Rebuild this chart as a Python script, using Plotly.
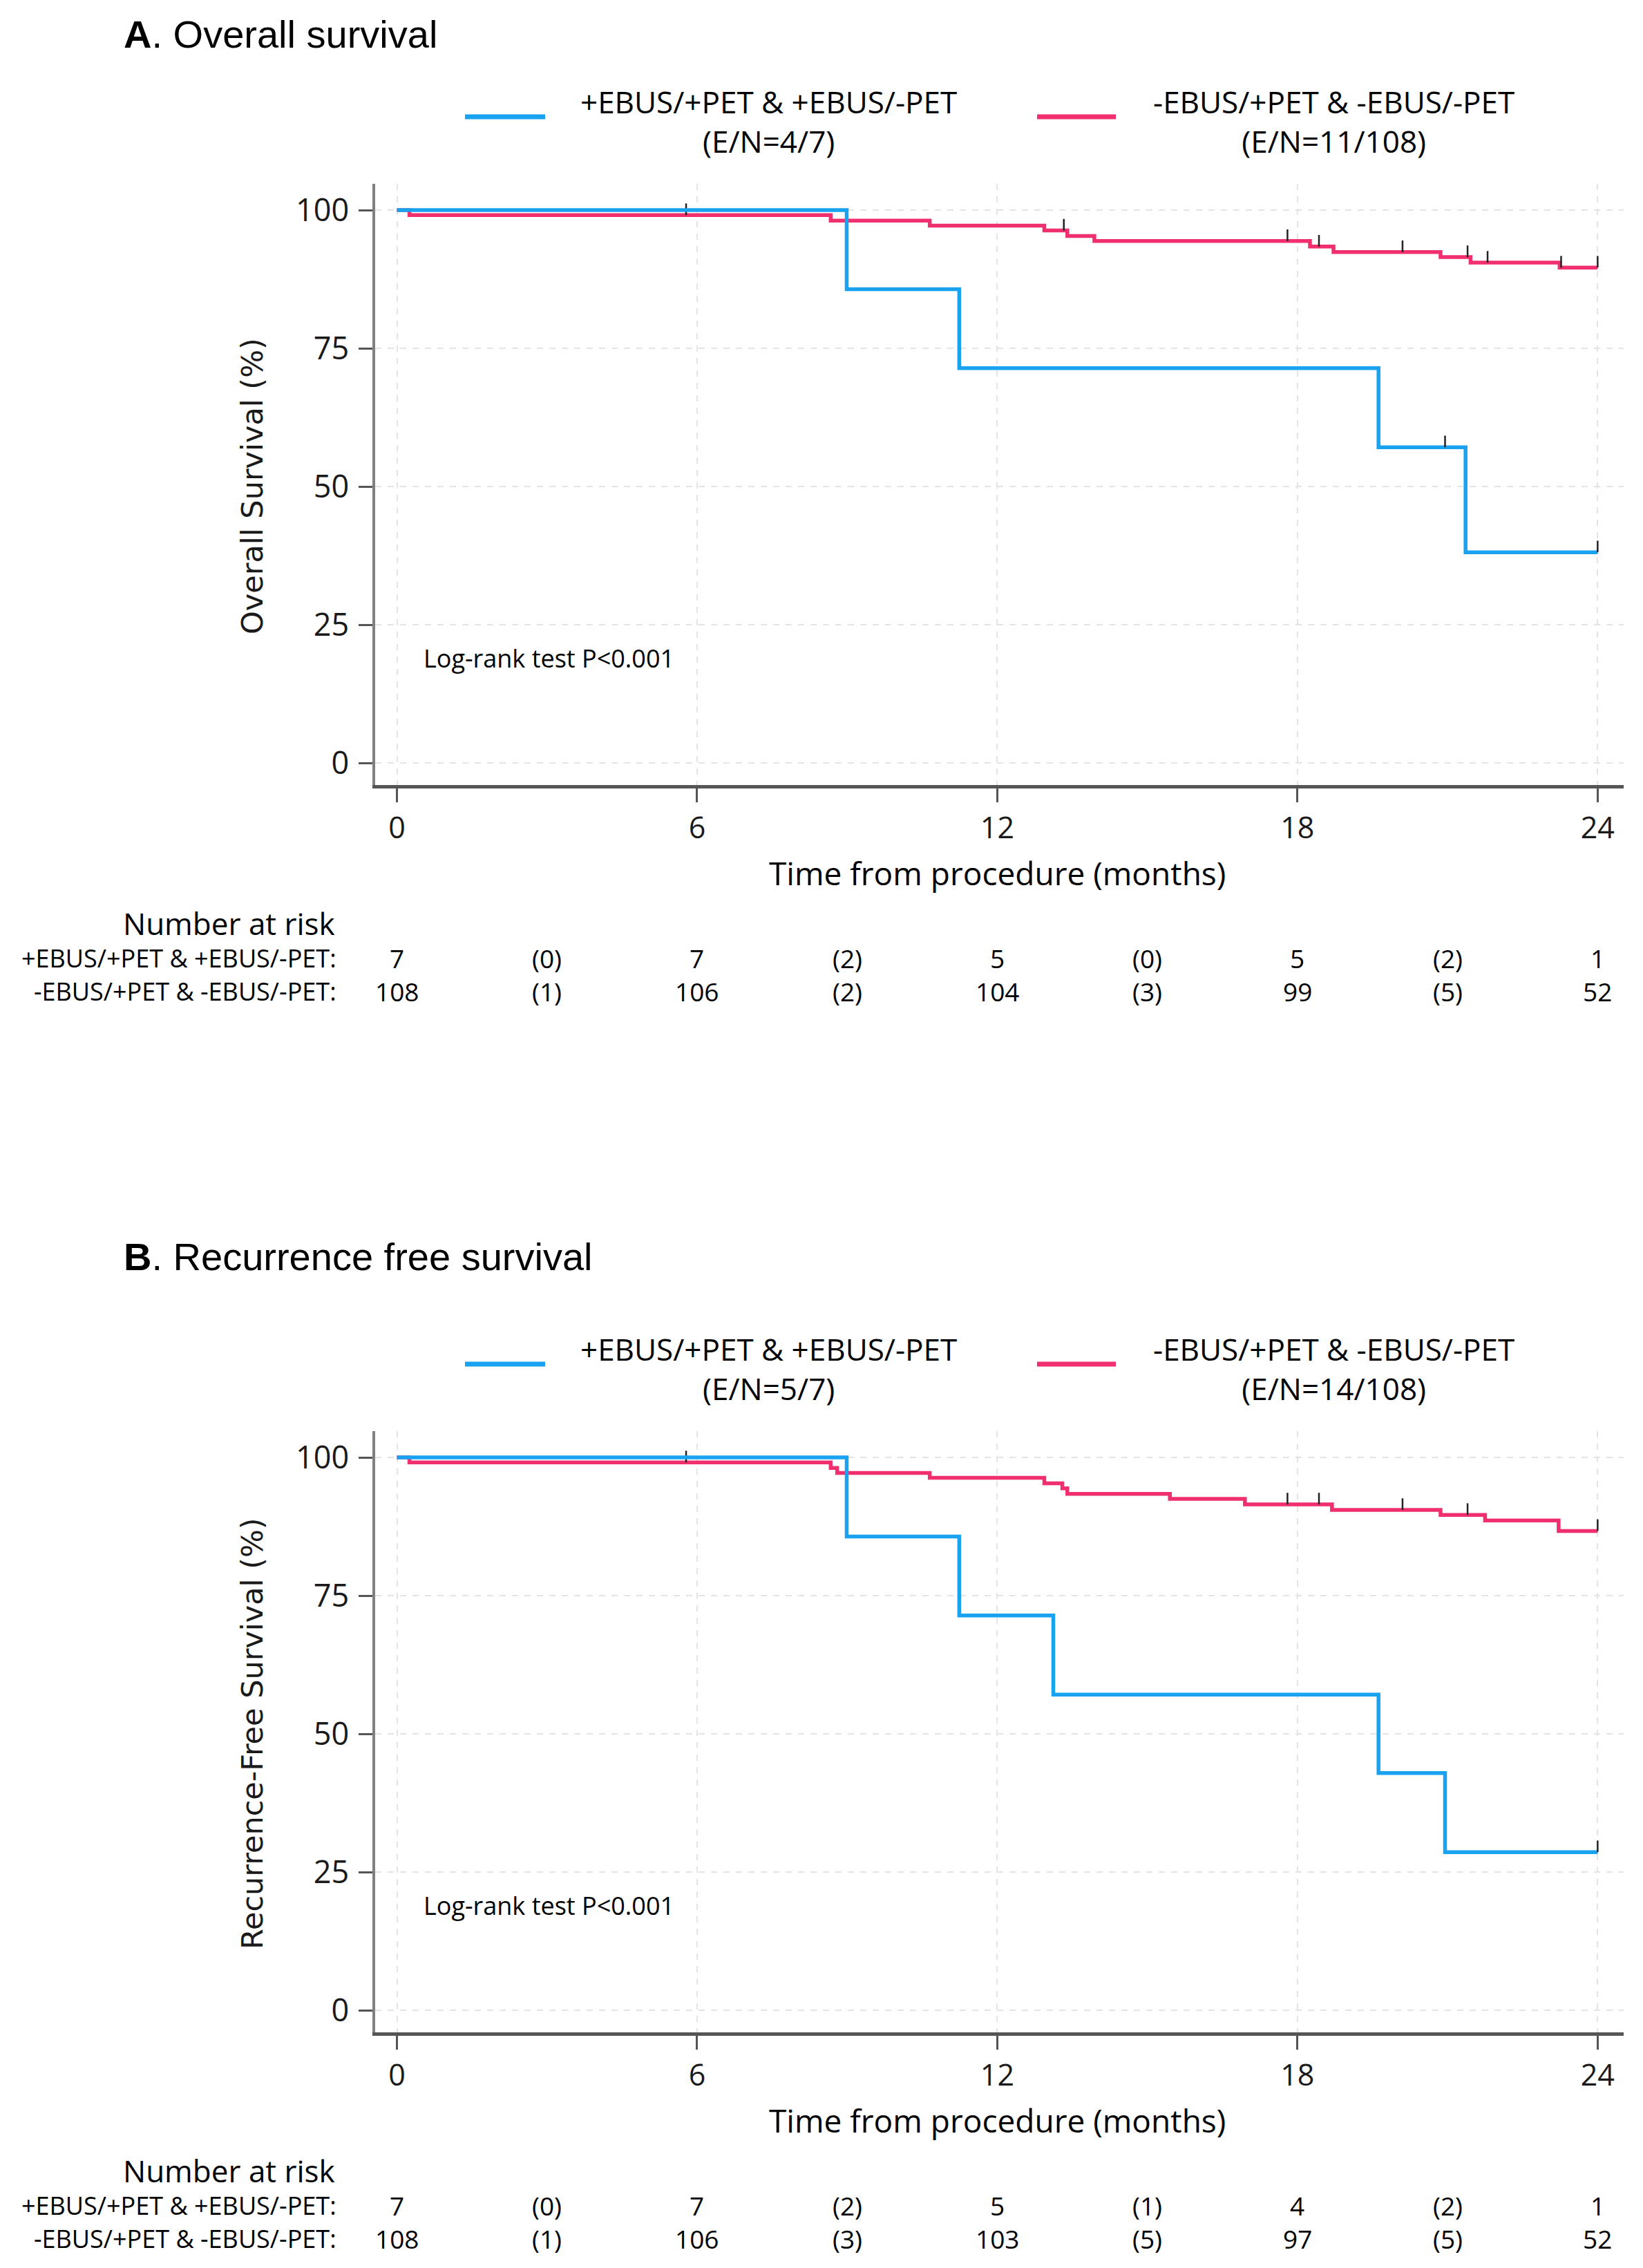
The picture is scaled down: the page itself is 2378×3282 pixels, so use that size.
import plotly.graph_objects as go

W, H = 2378, 3282
SHIFT = 1805  # vertical pixel offset of panel B

# ---------------- Data ----------------
# Panel A: Overall survival
os_pos_t = [0, 8.99, 11.24, 19.62, 21.36, 24.0]
os_pos_s = [100, 85.7, 71.4, 57.1, 38.1, 38.1]
os_pos_cens_t = [20.95, 24.0]
os_pos_cens_s = [57.1, 38.1]

os_neg_t = [0, 0.25, 8.67, 10.65, 12.94, 13.4, 13.94, 18.25, 18.72, 20.86, 21.46, 23.24, 24.0]
os_neg_s = [100, 99.1, 98.1, 97.2, 96.3, 95.3, 94.4, 93.4, 92.4, 91.5, 90.5, 89.6, 89.6]
os_neg_cens_t = [5.78, 13.33, 17.8, 18.43, 20.1, 21.4, 21.8, 23.27, 24.0]
os_neg_cens_s = [99.1, 96.3, 94.4, 93.4, 92.4, 91.5, 90.5, 89.6, 89.6]

# Panel B: Recurrence free survival
rfs_pos_t = [0, 8.99, 11.24, 13.12, 19.62, 20.95, 24.0]
rfs_pos_s = [100, 85.7, 71.4, 57.1, 42.9, 28.6, 28.6]
rfs_pos_cens_t = [24.0]
rfs_pos_cens_s = [28.6]

rfs_neg_t = [0, 0.25, 8.67, 8.8, 10.65, 12.94, 13.3, 13.4, 15.45, 16.95, 18.69, 20.86, 21.75, 23.22, 24.0]
rfs_neg_s = [100, 99.1, 98.1, 97.2, 96.3, 95.3, 94.4, 93.4, 92.5, 91.5, 90.5, 89.6, 88.6, 86.7, 86.7]
rfs_neg_cens_t = [5.78, 17.8, 18.43, 20.1, 21.4, 24.0]
rfs_neg_cens_s = [99.1, 91.5, 91.5, 90.5, 89.6, 86.7]

# Number at risk table
risk_times = [0, 3, 6, 9, 12, 15, 18, 21, 24]
os_risk_pos = ["7", "(0)", "7", "(2)", "5", "(0)", "5", "(2)", "1"]
os_risk_neg = ["108", "(1)", "106", "(2)", "104", "(3)", "99", "(5)", "52"]
rfs_risk_pos = ["7", "(0)", "7", "(2)", "5", "(1)", "4", "(2)", "1"]
rfs_risk_neg = ["108", "(1)", "106", "(3)", "103", "(5)", "97", "(5)", "52"]

group_pos = "+EBUS/+PET & +EBUS/-PET"
group_neg = "-EBUS/+PET & -EBUS/-PET"
os_en = ["(E/N=4/7)", "(E/N=11/108)"]
rfs_en = ["(E/N=5/7)", "(E/N=14/108)"]

x_ticks = [0, 6, 12, 18, 24]
y_ticks = [0, 25, 50, 75, 100]

# ---------------- Styling ----------------
BLUE = "#19a2f0"
PINK = "#ef2f6e"
TICKC = "#1a1a1a"
CAL = "Open Sans, Noto Sans, sans-serif"
ARIAL = "Liberation Sans, Arial, sans-serif"
VERD = "DejaVu Sans, Verdana, sans-serif"


def fx(p):
    return p / W


def fy(p):
    return 1 - p / H


fig = go.Figure()

panels = [
    dict(xa="x", ya="y", off=0, title="<b>A</b>. Overall survival", title_y=50,
         ytitle="Overall Survival (%)",
         pos=(os_pos_t, os_pos_s, os_pos_cens_t, os_pos_cens_s),
         neg=(os_neg_t, os_neg_s, os_neg_cens_t, os_neg_cens_s),
         risk=(os_risk_pos, os_risk_neg), en=os_en),
    dict(xa="x2", ya="y2", off=SHIFT, title="<b>B</b>. Recurrence free survival", title_y=1818,
         ytitle="Recurrence-Free Survival (%)",
         pos=(rfs_pos_t, rfs_pos_s, rfs_pos_cens_t, rfs_pos_cens_s),
         neg=(rfs_neg_t, rfs_neg_s, rfs_neg_cens_t, rfs_neg_cens_s),
         risk=(rfs_risk_pos, rfs_risk_neg), en=rfs_en),
]

annotations = []
shapes = []

for p in panels:
    xa, ya, off = p["xa"], p["ya"], p["off"]
    for (t, s, ct, cs), color, name in [(p["neg"], PINK, group_neg), (p["pos"], BLUE, group_pos)]:
        fig.add_trace(go.Scatter(x=t, y=s, mode="lines", line=dict(color=color, width=5.5, shape="hv"),
                                 name=name, showlegend=False, xaxis=xa, yaxis=ya))
        fig.add_trace(go.Scatter(x=ct, y=cs, mode="markers", marker=dict(size=2, color=color, opacity=0),
                                 error_y=dict(type="data", symmetric=False, array=[2.1] * len(ct),
                                              arrayminus=[0] * len(ct), width=0, thickness=2.5,
                                              color="#222222"),
                                 showlegend=False, hoverinfo="skip", xaxis=xa, yaxis=ya))

    # title
    annotations.append(dict(x=fx(177), y=fy(p["title_y"]), xref="paper", yref="paper", text=p["title"],
                            showarrow=False, xanchor="left", yanchor="middle",
                            font=dict(family=ARIAL, size=56, color="black")))
    # legend (manual, centred two-line labels)
    for (x0, x1, cx, color, lab, en) in [
        (673, 789, 1112, BLUE, group_pos, p["en"][0]),
        (1501, 1615, 1930, PINK, group_neg, p["en"][1]),
    ]:
        shapes.append(dict(type="line", xref="paper", yref="paper", x0=fx(x0), x1=fx(x1),
                           y0=fy(169 + off), y1=fy(169 + off), line=dict(color=color, width=7)))
        annotations.append(dict(x=fx(cx), y=fy(175 + off), xref="paper", yref="paper",
                                text=lab + "<br>" + en, align="center",
                                showarrow=False, xanchor="center", yanchor="middle",
                                font=dict(family=CAL, size=44, color="black")))
    # y title
    annotations.append(dict(x=fx(365), y=50, xref="paper", yref=ya, text=p["ytitle"], textangle=-90,
                            showarrow=False, xanchor="center", yanchor="middle",
                            font=dict(family=VERD, size=43, color="#1a1a1a")))
    # x title
    annotations.append(dict(x=12, y=fy(1263 + off), xref=xa, yref="paper", text="Time from procedure (months)",
                            showarrow=False, xanchor="center", yanchor="middle",
                            font=dict(family=CAL, size=46, color="black")))
    # log-rank
    annotations.append(dict(x=0.5, y=19, xref=xa, yref=ya, text="Log-rank test P<0.001",
                            showarrow=False, xanchor="left", yanchor="middle",
                            font=dict(family=CAL, size=36, color="black")))
    # number at risk
    annotations.append(dict(x=fx(487), y=fy(1336 + off), xref="paper", yref="paper", text="Number at risk",
                            showarrow=False, xanchor="right", yanchor="middle",
                            font=dict(family=CAL, size=44, color="black")))
    for row_y, lab, vals in [(1386, group_pos + ":", p["risk"][0]), (1434, group_neg + ":", p["risk"][1])]:
        annotations.append(dict(x=fx(489), y=fy(row_y + off), xref="paper", yref="paper", text=lab,
                                showarrow=False, xanchor="right", yanchor="middle",
                                font=dict(family=CAL, size=36, color="black")))
        for t, v in zip(risk_times, vals):
            annotations.append(dict(x=t, y=fy(row_y + off), xref=xa, yref="paper", text=v,
                                    showarrow=False, xanchor="center", yanchor="middle",
                                    font=dict(family=CAL, size=37, color="black")))

common_x = dict(range=[-0.435, 24.52], tickvals=x_ticks, ticks="outside", ticklen=20, tickwidth=2.5,
                tickcolor="#555555", showline=True, linecolor="#555555", linewidth=4.5,
                showgrid=True, gridcolor="#e4e4e4", gridwidth=2, griddash="dash", zeroline=False,
                tickfont=dict(family=CAL, size=43, color=TICKC), ticklabelstandoff=1, fixedrange=True)
common_y = dict(range=[-4.0, 104.75], tickvals=y_ticks, ticks="outside", ticklen=20, tickwidth=2.5,
                tickcolor="#555555", showline=True, linecolor="#808080", linewidth=3.5,
                showgrid=True, gridcolor="#e4e4e4", gridwidth=2, griddash="dash", zeroline=False,
                tickfont=dict(family=CAL, size=45, color=TICKC), ticklabelstandoff=5, fixedrange=True)

xdom = [fx(543), fx(2350)]
fig.update_layout(
    width=W, height=H, margin=dict(l=0, r=0, t=0, b=0),
    paper_bgcolor="white", plot_bgcolor="white", showlegend=False,
    xaxis=dict(domain=xdom, anchor="y", **common_x),
    yaxis=dict(domain=[fy(1136), fy(266)], anchor="x", **common_y),
    xaxis2=dict(domain=xdom, anchor="y2", **common_x),
    yaxis2=dict(domain=[fy(1136 + SHIFT), fy(266 + SHIFT)], anchor="x2", **common_y),
    annotations=annotations, shapes=shapes,
)

fig.write_html("out.html", config={"displayModeBar": False},
               post_script="document.body.style.margin='0';document.body.style.overflow='hidden';")
